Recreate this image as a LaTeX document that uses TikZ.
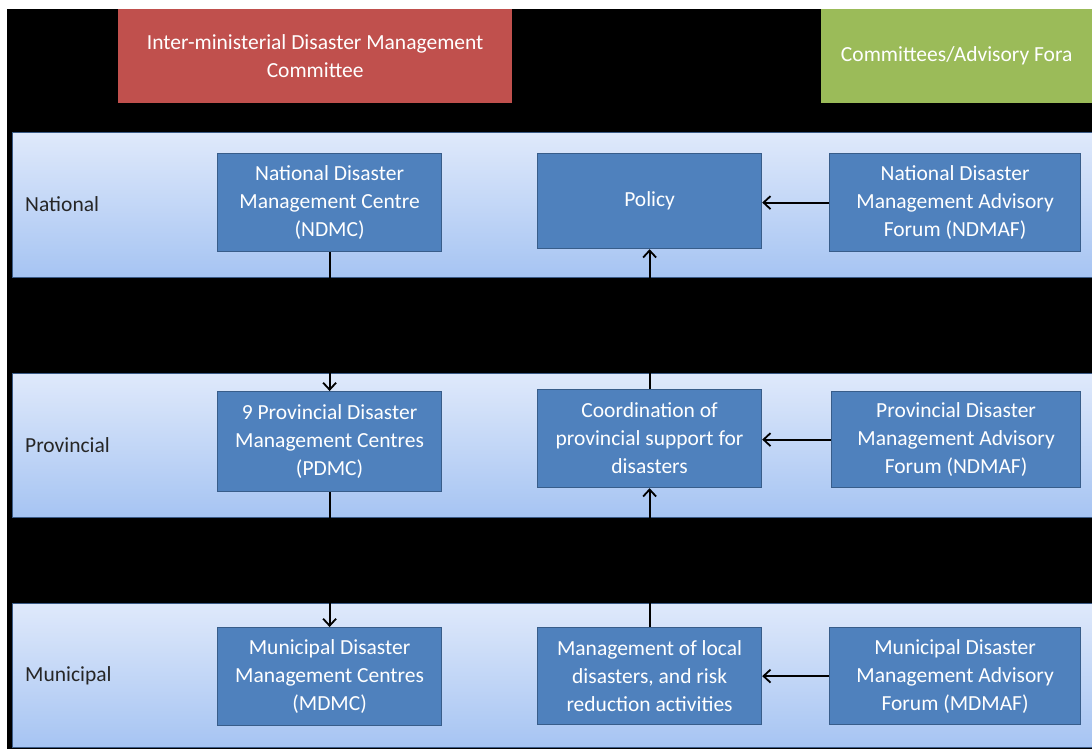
\documentclass[tikz,border=0pt]{standalone}
\usepackage{fontspec}
\setmainfont{Carlito}
\usetikzlibrary{arrows.meta}
\definecolor{boxblue}{HTML}{4F81BD}
\definecolor{boxedge}{HTML}{385D8A}
\definecolor{bandtop}{HTML}{DFE9FB}
\definecolor{bandbot}{HTML}{A6C4F2}
\definecolor{bandedge}{HTML}{3A5A85}
\definecolor{redbox}{HTML}{C0504D}
\definecolor{greenbox}{HTML}{9BBB59}
\tikzset{
  x=1pt, y=-1pt,
  band/.style={anchor=north west, inner sep=0pt, draw=bandedge, line width=1pt,
    top color=bandtop, bottom color=bandbot},
  bluebox/.style={anchor=north west, inner sep=0pt, fill=boxblue, draw=boxedge, line width=1.2pt,
    text=white, align=center, font=\fontsize{21.5}{28}\selectfont},
  topbox/.style={anchor=north west, inner sep=0pt, text=white, align=center,
    font=\fontsize{21.5}{28}\selectfont},
  level/.style={anchor=west, inner sep=0pt, text=black!85, font=\fontsize{21.5}{26}\selectfont},
  conn/.style={line width=1.8pt, black},
  arr/.style={conn, -{Straight Barb[length=7pt,width=13pt,line width=1.8pt]}}
}
\begin{document}
\begin{tikzpicture}
\useasboundingbox (0,0) rectangle (1092,749);
\fill[white] (0,0) rectangle (1092,749);
\fill[black] (7,9) rectangle (1092,749);
% top boxes
\node[topbox, fill=redbox, minimum width=394pt, minimum height=94pt] (imdmc) at (118,9)
  {Inter-ministerial Disaster Management\\Committee};
\node[topbox, fill=greenbox, minimum width=271pt, minimum height=94pt] (fora) at (821,9)
  {Committees/Advisory Fora};
% bands
\node[band, minimum width=1082pt, minimum height=145pt] (bnat) at (12,132) {};
\node[band, minimum width=1082pt, minimum height=144pt] (bprov) at (12,373) {};
\node[band, minimum width=1082pt, minimum height=144pt] (bmun) at (12,603) {};
% level labels
\node[level] (lnat) at (25,204) {National};
\node[level] (lprov) at (25,445) {Provincial};
\node[level] (lmun) at (25,676) {Municipal};
% national row
\node[bluebox, minimum width=224pt, minimum height=98pt] (ndmc) at (217,153)
  {National Disaster\\Management Centre\\(NDMC)};
\node[bluebox, minimum width=224pt, minimum height=95pt] (policy) at (537,153) {Policy};
\node[bluebox, minimum width=251pt, minimum height=98pt] (ndmaf) at (829,153)
  {National Disaster\\Management Advisory\\Forum (NDMAF)};
% provincial row
\node[bluebox, minimum width=224pt, minimum height=100pt] (pdmc) at (217,391)
  {9 Provincial Disaster\\Management Centres\\(PDMC)};
\node[bluebox, minimum width=224pt, minimum height=98pt] (coord) at (537,389)
  {Coordination of\\provincial support for\\disasters};
\node[bluebox, minimum width=249pt, minimum height=96pt] (pdmaf) at (831,391)
  {Provincial Disaster\\Management Advisory\\Forum (NDMAF)};
% municipal row
\node[bluebox, minimum width=224pt, minimum height=98pt] (mdmc) at (217,627)
  {Municipal Disaster\\Management Centres\\(MDMC)};
\node[bluebox, minimum width=224pt, minimum height=97pt] (mgmt) at (537,627)
  {Management of local\\disasters, and risk\\reduction activities};
\node[bluebox, minimum width=251pt, minimum height=97pt] (mdmaf) at (829,627)
  {Municipal Disaster\\Management Advisory\\Forum (MDMAF)};
% connectors
\draw[arr] (ndmc.south) -- (pdmc.north);
\draw[arr] (pdmc.south) -- (mdmc.north);
\draw[arr] (mgmt.north) -- (coord.south);
\draw[arr] (coord.north) -- (policy.south);
\draw[arr] (ndmaf.west) -- (ndmaf.west -| policy.east);
\draw[arr] (pdmaf.west) -- (pdmaf.west -| coord.east);
\draw[arr] (mdmaf.west) -- (mdmaf.west -| mgmt.east);
\end{tikzpicture}
\end{document}
